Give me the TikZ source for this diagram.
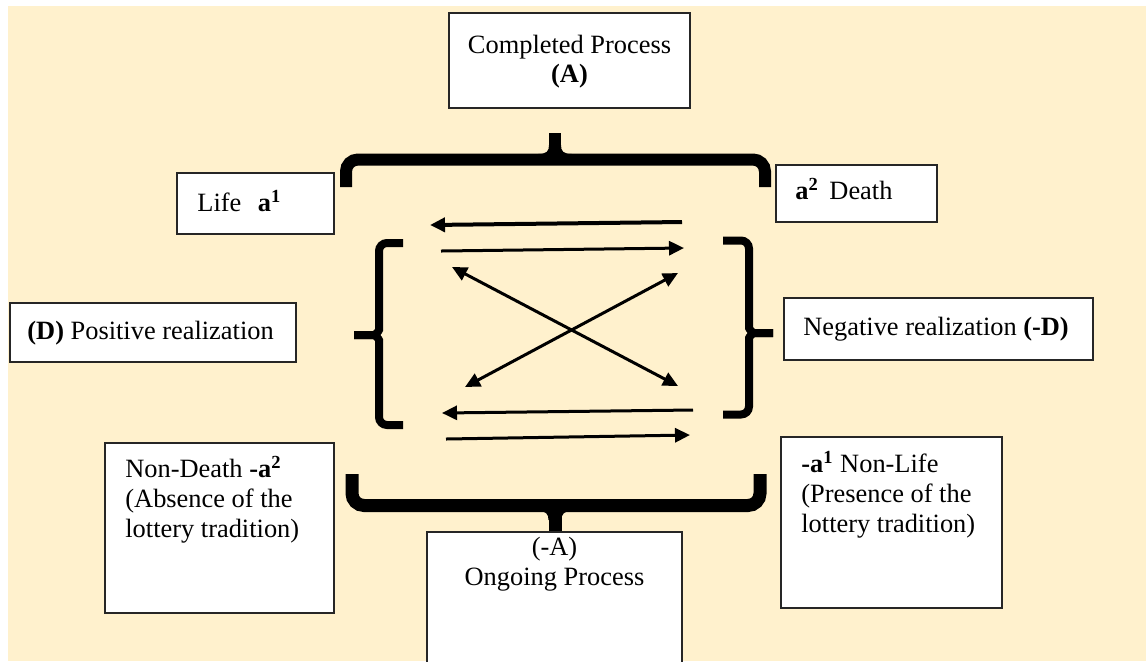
\documentclass[tikz,border=0pt]{standalone}
\usepackage{fontspec}
\setmainfont{Liberation Serif}
\usetikzlibrary{arrows.meta}
\definecolor{paper}{RGB}{255,241,205}
\begin{document}
\begin{tikzpicture}[x=0.5pt,y=-0.5pt,
  box/.style={draw=black!85, line width=0.7pt, fill=white, anchor=north west,
    inner sep=0pt, outer sep=0pt},
  txt/.style={anchor=base west, inner sep=0pt, font=\fontsize{13.2}{15}\selectfont},
  ctxt/.style={txt, anchor=base},
  headtip/.tip={Triangle[length=7.5pt,width=7pt]},
  onearrow/.style={line width=1.5pt, -headtip},
  twoarrow/.style={line width=1.5pt, headtip-headtip},
  bigbrace/.style={line width=6pt, rounded corners=6pt},
  bracket/.style={line width=4pt, rounded corners=4pt}]
\useasboundingbox (0,0) rectangle (1146,661);
\begin{scope}
\clip (0,0) rectangle (1146,661);
\fill[paper] (8,6) rectangle (1146,661);

% ---- boxes ----
\node[box, minimum width=120.5pt, minimum height=47.5pt] (top) at (449,13) {};
\node[box, minimum width=78.5pt,  minimum height=30.5pt] (life) at (177,173) {};
\node[box, minimum width=80.5pt,  minimum height=28.5pt] (death) at (776,165) {};
\node[box, minimum width=143pt,   minimum height=29.5pt] (pos) at (10,303) {};
\node[box, minimum width=154.5pt, minimum height=31pt]   (neg) at (784,298) {};
\node[box, minimum width=114.5pt, minimum height=85pt]   (nondeath) at (105,443) {};
\node[box, minimum width=110.5pt, minimum height=85.5pt] (nonlife) at (781,437) {};
\node[box, minimum width=127.5pt, minimum height=70pt]   (ongoing) at (427,532) {};

% ---- labels ----
\node[ctxt] (topA) at (569.5,53) {Completed Process};
\node[ctxt] (topB) at (569.5,82) {\textbf{(A)}};
\node[txt] (lifeT) at (197,211) {Life\hspace{5pt} \textbf{a\textsuperscript{1}}};
\node[txt] (deathT) at (795,199) {\textbf{a\textsuperscript{2}}\hspace{2pt} Death};
\node[txt] (posT) at (27,339) {\textbf{(D)} Positive realization};
\node[txt] (negT) at (803,335) {Negative realization \textbf{(-D)}};
\node[txt] (ndA) at (125,477) {Non-Death \textbf{-a\textsuperscript{2}}};
\node[txt] (ndB) at (125,507) {(Absence of the};
\node[txt] (ndC) at (125,537) {lottery tradition)};
\node[txt] (nlA) at (801,472) {\textbf{-a\textsuperscript{1}} Non-Life};
\node[txt] (nlB) at (801,502) {(Presence of the};
\node[txt] (nlC) at (801,532) {lottery tradition)};
\node[ctxt] (ogA) at (554.5,555) {(-A)};
\node[ctxt] (ogB) at (554.5,585) {Ongoing Process};

% ---- upper brace: bar, middle tick and its flare ----
\draw[bigbrace] (346,187) -- (346,159.5) -- (765,159.5) -- (765,187);
\draw[line width=6pt] (555,160) -- (555,133);
\fill (538,154) .. controls (547,154) and (549,151) .. (549,145)
  -- (561,145) .. controls (561,151) and (563,154) .. (572,154) -- cycle;

% ---- lower brace ----
\draw[bigbrace, line width=6.5pt] (352,474) -- (352,505.5) -- (760,505.5) -- (760,474);
\draw[line width=6.5pt] (555,505) -- (555,531);
\fill (538,511) .. controls (546,511) and (548.5,514) .. (548.5,520)
  -- (561.5,520) .. controls (561.5,514) and (564,511) .. (572,511) -- cycle;

% ---- left bracket ----
\draw[bracket] (403,243) -- (379,243) -- (379,322)
  .. controls (379,331) and (375,335) .. (366,335) -- (354,335);
\draw[bracket] (403,425) -- (379,425) -- (379,348)
  .. controls (379,339) and (375,335) .. (366,335) -- (354,335);

% ---- right bracket ----
\draw[bracket] (723,240.5) -- (749,240.5) -- (749,320)
  .. controls (749,329) and (753,333) .. (762,333) -- (773,333);
\draw[bracket] (723,414.5) -- (749,414.5) -- (749,346)
  .. controls (749,337) and (753,333) .. (762,333) -- (773,333);

% ---- arrows ----
\coordinate (a1s) at (682,222);  \coordinate (a1e) at (430,225);
\coordinate (a2s) at (441,251);  \coordinate (a2e) at (684,248);
\coordinate (d1s) at (452,267);  \coordinate (d1e) at (678,386);
\coordinate (d2s) at (465,387);  \coordinate (d2e) at (678,273);
\coordinate (a3s) at (693,410);  \coordinate (a3e) at (442,413);
\coordinate (a4s) at (446,439);  \coordinate (a4e) at (690,435);
\draw[onearrow, line width=2pt] (a1s) -- (a1e);
\draw[onearrow] (a2s) -- (a2e);
\draw[twoarrow] (d1s) -- (d1e);
\draw[twoarrow] (d2s) -- (d2e);
\draw[onearrow] (a3s) -- (a3e);
\draw[onearrow] (a4s) -- (a4e);
\end{scope}
\end{tikzpicture}
\end{document}
